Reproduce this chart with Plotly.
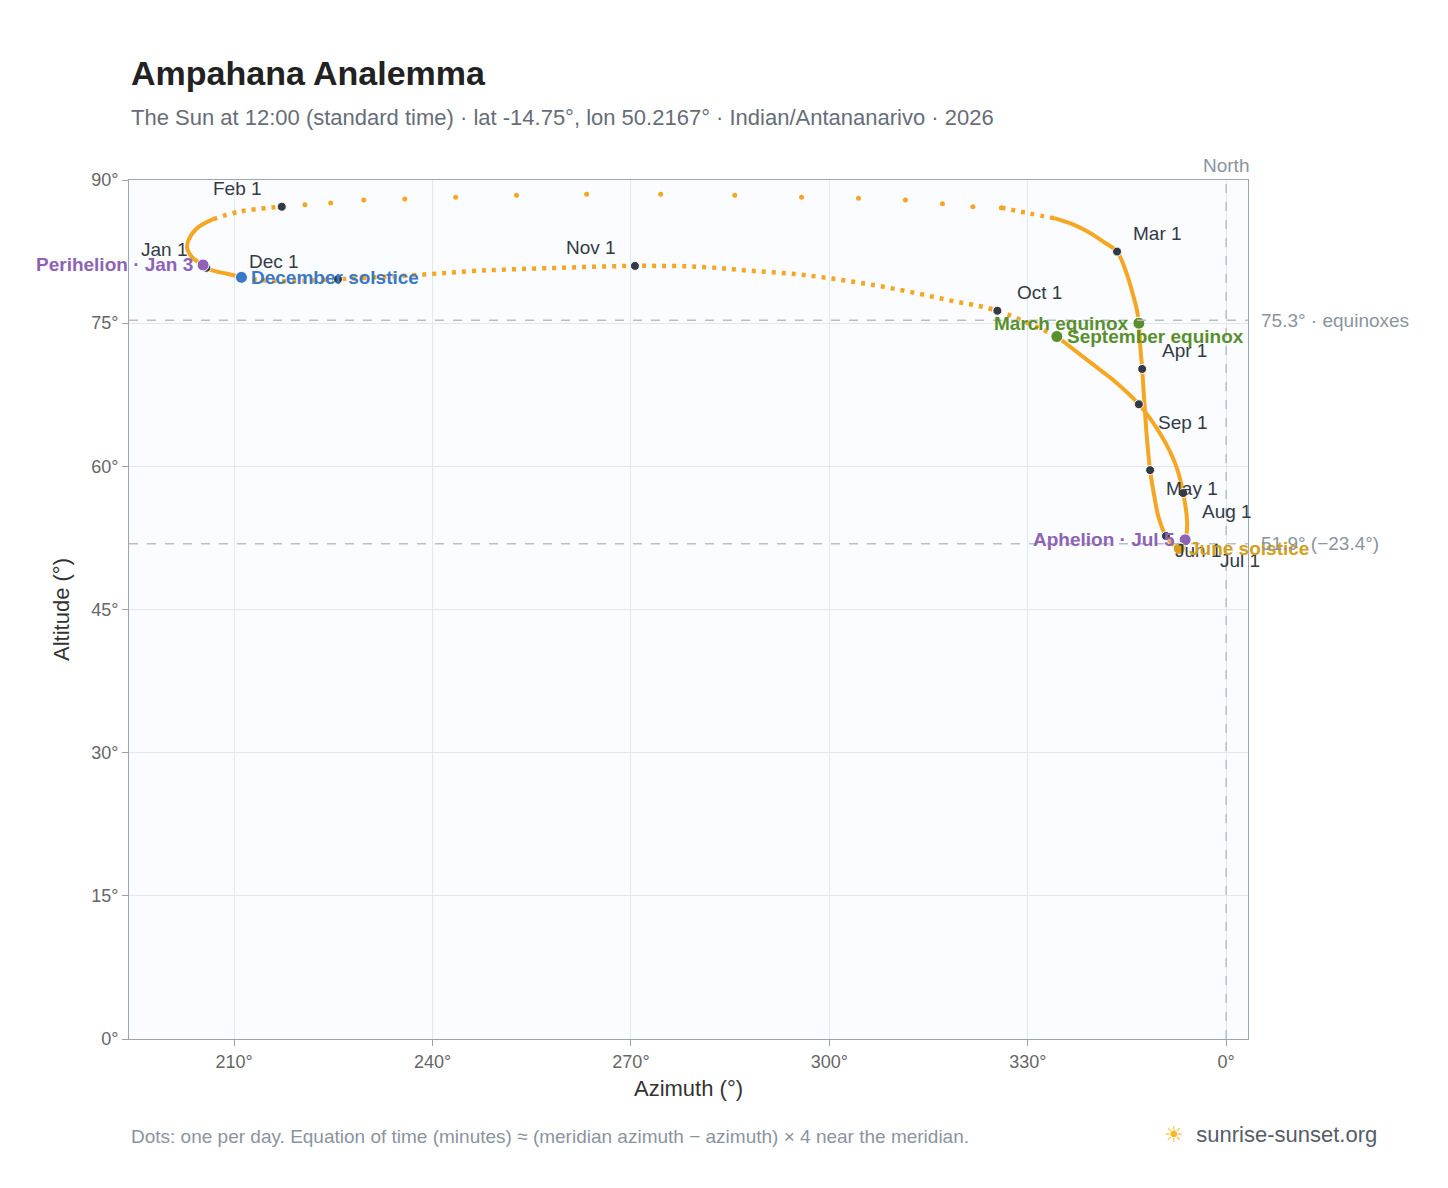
import plotly.graph_objects as go

# Sun at 12:00, Dec 21 -> Dec 21
az = [211.1, 208.8, 206.8, 205.8, 205.3, 203.8, 202.9, 203.1, 204.3, 206.8, 210.9,
      217.2, 220.7, 224.6, 229.6, 235.8, 243.5, 252.7, 263.3, 274.5, 285.7, 295.8, 304.4,
      311.5, 317.1, 321.7, 326.0, 330.2, 334.0, 337.0, 339.3, 341.5,
      343.5, 345.0, 345.9, 346.5, 346.8, 347.0, 347.3, 347.6, 348.0, 348.5, 349.1, 349.8,
      350.9, 352.0, 352.9, 353.3, 353.8, 354.1, 353.5, 352.4, 350.3, 346.8, 343.0, 340.0,
      334.4, 325.4, 318.1, 310.6, 303.0, 295.5, 287.9, 280.4, 270.6, 259.2, 247.1, 236.6,
      225.7, 218.5, 214.2, 211.1]
alt = [79.8, 80.2, 80.5, 80.8, 81.1, 81.8, 82.8, 83.7, 84.9, 85.9, 86.7,
       87.2, 87.4, 87.6, 87.9, 88.0, 88.2, 88.4, 88.5, 88.5, 88.4, 88.2, 88.1,
       87.9, 87.5, 87.2, 87.1, 86.5, 86.0, 85.3, 84.5, 83.5,
       82.5, 80.1, 78.0, 76.4, 75.0, 72.7, 70.2, 67.0, 63.1, 59.6, 57.0, 54.6,
       52.7, 51.8, 51.4, 51.8, 52.3, 53.9, 57.2, 60.1, 63.1, 66.5, 69.0, 70.6,
       73.6, 76.3, 77.4, 78.5, 79.4, 80.1, 80.5, 80.9, 81.0, 80.8, 80.5, 80.0,
       79.6, 79.4, 79.5, 79.8]
# index ranges: packed dots (continuous), spread dots (sampled daily), dotted runs
dense_runs = [(0, 9), (28, 56)]
sparse_run = (11, 26)
dotted_runs = [(9, 11), (26, 28), (56, 71)]

month_labels = ["Jan 1", "Feb 1", "Mar 1", "Apr 1", "May 1", "Jun 1", "Jul 1", "Aug 1", "Sep 1", "Oct 1", "Nov 1", "Dec 1"]
month_az = [205.8, 217.2, 343.5, 347.3, 348.5, 350.9, 353.3, 353.5, 346.8, 325.4, 270.6, 225.7]
month_alt = [80.8, 87.2, 82.5, 70.2, 59.6, 52.7, 51.8, 57.2, 66.5, 76.3, 81.0, 79.6]
month_dx = [-42, -44, 40, 42, 42, 32, 58, 44, 44, 42, -44, -64]
month_dy = [18, 18, 18, 18, -18, -14, -16, -18, -18, 18, 18, 18]

events = ["Perihelion · Jan 3", "Aphelion · Jul 5", "December solstice", "June solstice", "March equinox", "September equinox"]
ev_az = [205.3, 353.8, 211.1, 352.9, 346.8, 334.4]
ev_alt = [81.1, 52.3, 79.8, 51.4, 75.0, 73.6]
ev_col = ["#8e63b5", "#8e63b5", "#3a78c9", "#d4a017", "#5a8f2e", "#5a8f2e"]
ev_pos = ["left", "left", "right", "right", "left", "right"]

eq_alt = 75.3
sol_alt = 51.9

ORANGE = "#f5a623"
fig = go.Figure()
for a, b in dense_runs:
    fig.add_trace(go.Scatter(x=az[a:b + 1], y=alt[a:b + 1], mode="lines", line=dict(color=ORANGE, width=4, shape="spline"),
                             hoverinfo="skip", showlegend=False))
for a, b in dotted_runs:
    fig.add_trace(go.Scatter(x=az[a:b + 1], y=alt[a:b + 1], mode="lines", line=dict(color=ORANGE, width=4.5, shape="spline", dash="4px,6px"),
                             hoverinfo="skip", showlegend=False))
a, b = sparse_run
fig.add_trace(go.Scatter(x=az[a:b + 1], y=alt[a:b + 1], mode="markers", marker=dict(color=ORANGE, size=5), hoverinfo="skip", showlegend=False))
fig.add_trace(go.Scatter(x=month_az, y=month_alt, mode="markers", marker=dict(color="#333a45", size=9, line=dict(color="white", width=1)),
                         showlegend=False))
fig.add_trace(go.Scatter(x=ev_az, y=ev_alt, mode="markers", marker=dict(color=ev_col, size=12, line=dict(color="white", width=1)),
                         showlegend=False))

for l, x, y, dx, dy in zip(month_labels, month_az, month_alt, month_dx, month_dy):
    fig.add_annotation(x=x, y=y, text=l, showarrow=False, xshift=dx, yshift=dy,
                       font=dict(size=19, color="#333a45"))
for l, x, y, c, p in zip(events, ev_az, ev_alt, ev_col, ev_pos):
    fig.add_annotation(x=x, y=y, text="<b>" + l + "</b>", showarrow=False, xanchor="right" if p == "left" else "left",
                       xshift=-8 if p == "left" else 8, font=dict(size=19, color=c))

for y in [eq_alt, sol_alt]:
    fig.add_shape(type="line", xref="paper", x0=0, x1=1, y0=y, y1=y, line=dict(color="#b5bfca", width=1.5, dash="dash"))
fig.add_shape(type="line", x0=360, x1=360, yref="paper", y0=0, y1=1, line=dict(color="#b5bfca", width=1.5, dash="dash"))
fig.add_annotation(xref="paper", x=1.01, y=eq_alt, text="75.3° · equinoxes", showarrow=False, xanchor="left", font=dict(size=19, color="#8a949f"))
fig.add_annotation(xref="paper", x=1.01, y=sol_alt, text="51.9° (−23.4°)", showarrow=False, xanchor="left", font=dict(size=19, color="#8a949f"))
fig.add_annotation(x=360, yref="paper", y=1.0, text="North", showarrow=False, yanchor="bottom", yshift=2, font=dict(size=19, color="#8a949f"))

fig.add_annotation(xref="paper", yref="paper", x=0, y=1.0, yshift=86, xanchor="left", yanchor="bottom", showarrow=False,
                   text="<b>Ampahana Analemma</b>", font=dict(size=34, color="#222"))
fig.add_annotation(xref="paper", yref="paper", x=0, y=1.0, yshift=48, xanchor="left", yanchor="bottom", showarrow=False,
                   text="The Sun at 12:00 (standard time) · lat -14.75°, lon 50.2167° · Indian/Antananarivo · 2026",
                   font=dict(size=22, color="#666d78"))
fig.add_annotation(xref="paper", yref="paper", x=0, y=0, yshift=-110, xanchor="left", yanchor="bottom", showarrow=False,
                   text="Dots: one per day. Equation of time (minutes) ≈ (meridian azimuth − azimuth) × 4 near the meridian.",
                   font=dict(size=19, color="#8a949f"))
fig.add_annotation(xref="paper", yref="paper", x=1.117, y=0, yshift=-110, xanchor="right", yanchor="bottom", showarrow=False,
                   text="<span style='color:#f5b820'>☀</span>  sunrise-sunset.org", font=dict(size=22, color="#555d68"))

fig.update_xaxes(range=[194.1, 363.3], tickvals=[210, 240, 270, 300, 330, 360], ticktext=["210°", "240°", "270°", "300°", "330°", "0°"],
                 title=dict(text="Azimuth (°)", font=dict(size=22, color="#333"), standoff=10), gridcolor="#e3e8ee", zeroline=False,
                 showline=True, linecolor="#9aa5b1", mirror=True, ticks="outside", tickcolor="#9aa5b1", ticklen=6,
                 tickfont=dict(size=18, color="#666"))
fig.update_yaxes(range=[0, 90], dtick=15, ticksuffix="°", title=dict(text="Altitude (°)", font=dict(size=22, color="#333")),
                 gridcolor="#e3e8ee", zeroline=False, showline=True, linecolor="#9aa5b1", mirror=True, ticks="outside",
                 tickcolor="#9aa5b1", ticklen=6, tickfont=dict(size=18, color="#666"))
fig.update_layout(width=1448, height=1188, margin=dict(l=121, r=208, t=172, b=157), plot_bgcolor="#fafcff",
                  paper_bgcolor="white", font=dict(family="Liberation Sans, Arial, sans-serif"))
fig.write_html("out.html")
